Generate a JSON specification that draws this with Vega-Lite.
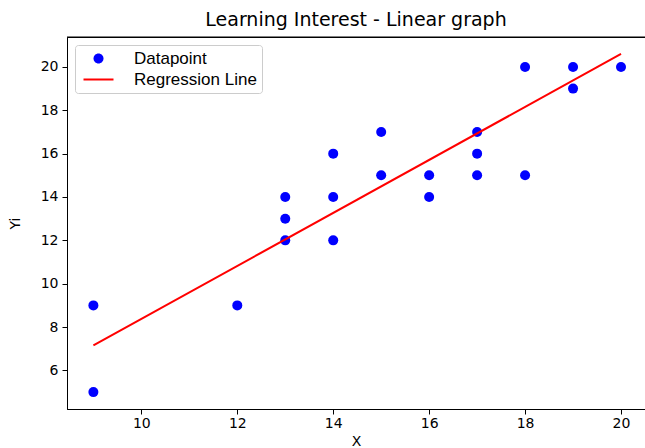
{
  "$schema": "https://vega.github.io/schema/vega-lite/v6.json",
  "width": 578,
  "height": 372,
  "autosize": {"type": "none"},
  "padding": {"left": 67, "top": 37, "right": 0, "bottom": 39},
  "background": "white",
  "title": {"text": "Learning Interest - Linear graph", "font": "DejaVu Sans", "fontSize": 19, "fontWeight": "normal", "color": "#000", "anchor": "middle", "offset": 7},
  "config": {
    "view": {"stroke": "#000000", "strokeWidth": 1},
    "axis": {"grid": false, "domainColor": "#000", "tickColor": "#000", "tickSize": 5, "labelFont": "DejaVu Sans", "labelFontSize": 14, "labelColor": "#000", "titleFont": "DejaVu Sans", "titleFontSize": 14, "titleFontWeight": "normal", "titleColor": "#000", "labelPadding": 3},
    "legend": {"labelFont": "Liberation Sans", "labelFontSize": 17, "labelColor": "#000"}
  },
  "datasets": {
    "points": [
      {"x": 9, "y": 9, "series": "Datapoint"},
      {"x": 9, "y": 5, "series": "Datapoint"},
      {"x": 12, "y": 9, "series": "Datapoint"},
      {"x": 13, "y": 14, "series": "Datapoint"},
      {"x": 13, "y": 13, "series": "Datapoint"},
      {"x": 13, "y": 12, "series": "Datapoint"},
      {"x": 14, "y": 16, "series": "Datapoint"},
      {"x": 14, "y": 14, "series": "Datapoint"},
      {"x": 14, "y": 12, "series": "Datapoint"},
      {"x": 15, "y": 17, "series": "Datapoint"},
      {"x": 15, "y": 15, "series": "Datapoint"},
      {"x": 16, "y": 15, "series": "Datapoint"},
      {"x": 16, "y": 14, "series": "Datapoint"},
      {"x": 17, "y": 17, "series": "Datapoint"},
      {"x": 17, "y": 16, "series": "Datapoint"},
      {"x": 17, "y": 15, "series": "Datapoint"},
      {"x": 18, "y": 20, "series": "Datapoint"},
      {"x": 18, "y": 15, "series": "Datapoint"},
      {"x": 19, "y": 20, "series": "Datapoint"},
      {"x": 19, "y": 19, "series": "Datapoint"},
      {"x": 20, "y": 20, "series": "Datapoint"}
    ],
    "line": [
      {"x": 9, "y": 7.15, "series": "Regression Line"},
      {"x": 20, "y": 20.6, "series": "Regression Line"}
    ],
    "frame": [
      {"top": 21.38}
    ]
  },
  "encoding": {
    "color": {"field": "series", "type": "nominal", "scale": {"domain": ["Datapoint", "Regression Line"], "range": ["#0000ff", "#ff0000"]},
      "legend": {"title": null, "orient": "top-left", "offset": 8, "fillColor": "white", "strokeColor": "#cccccc", "cornerRadius": 3, "padding": 5, "rowPadding": 3, "symbolSize": 100, "labelOffset": 37,
        "encode": {"symbols": {"update": {
          "shape": {"signal": "datum.value === 'Datapoint' ? 'M 3,0 A 1,1 0 1,1 1,0 A 1,1 0 1,1 3,0 Z' : 'M -1,0 L 5,0'"},
          "stroke": {"scale": "color", "field": "value"},
          "fill": {"signal": "datum.value === 'Datapoint' ? '#0000ff' : 'transparent'"},
          "strokeWidth": {"signal": "datum.value === 'Datapoint' ? 0 : 2"},
          "opacity": {"value": 1}
        }}}}}
  },
  "layer": [
    {
      "data": {"name": "points"},
      "mark": {"type": "point", "filled": true, "opacity": 1, "size": 100},
      "encoding": {
        "x": {"field": "x", "type": "quantitative", "title": "X", "scale": {"domain": [8.45, 20.5], "nice": false, "zero": false}, "axis": {"values": [10, 12, 14, 16, 18, 20], "labelPadding": 2, "titlePadding": 4}},
        "y": {"field": "y", "type": "quantitative", "title": "Yi", "scale": {"domain": [4.22, 21.38], "nice": false, "zero": false}, "axis": {"values": [6, 8, 10, 12, 14, 16, 18, 20], "labelPadding": 4, "titlePadding": 18}}
      }
    },
    {
      "data": {"name": "line"},
      "mark": {"type": "line", "strokeWidth": 2},
      "encoding": {
        "x": {"field": "x", "type": "quantitative"},
        "y": {"field": "y", "type": "quantitative"}
      }
    },
    {
      "data": {"name": "frame"},
      "mark": {"type": "rule", "strokeWidth": 1},
      "encoding": {
        "y": {"field": "top", "type": "quantitative"},
        "color": {"value": "#000000"}
      }
    }
  ]
}
